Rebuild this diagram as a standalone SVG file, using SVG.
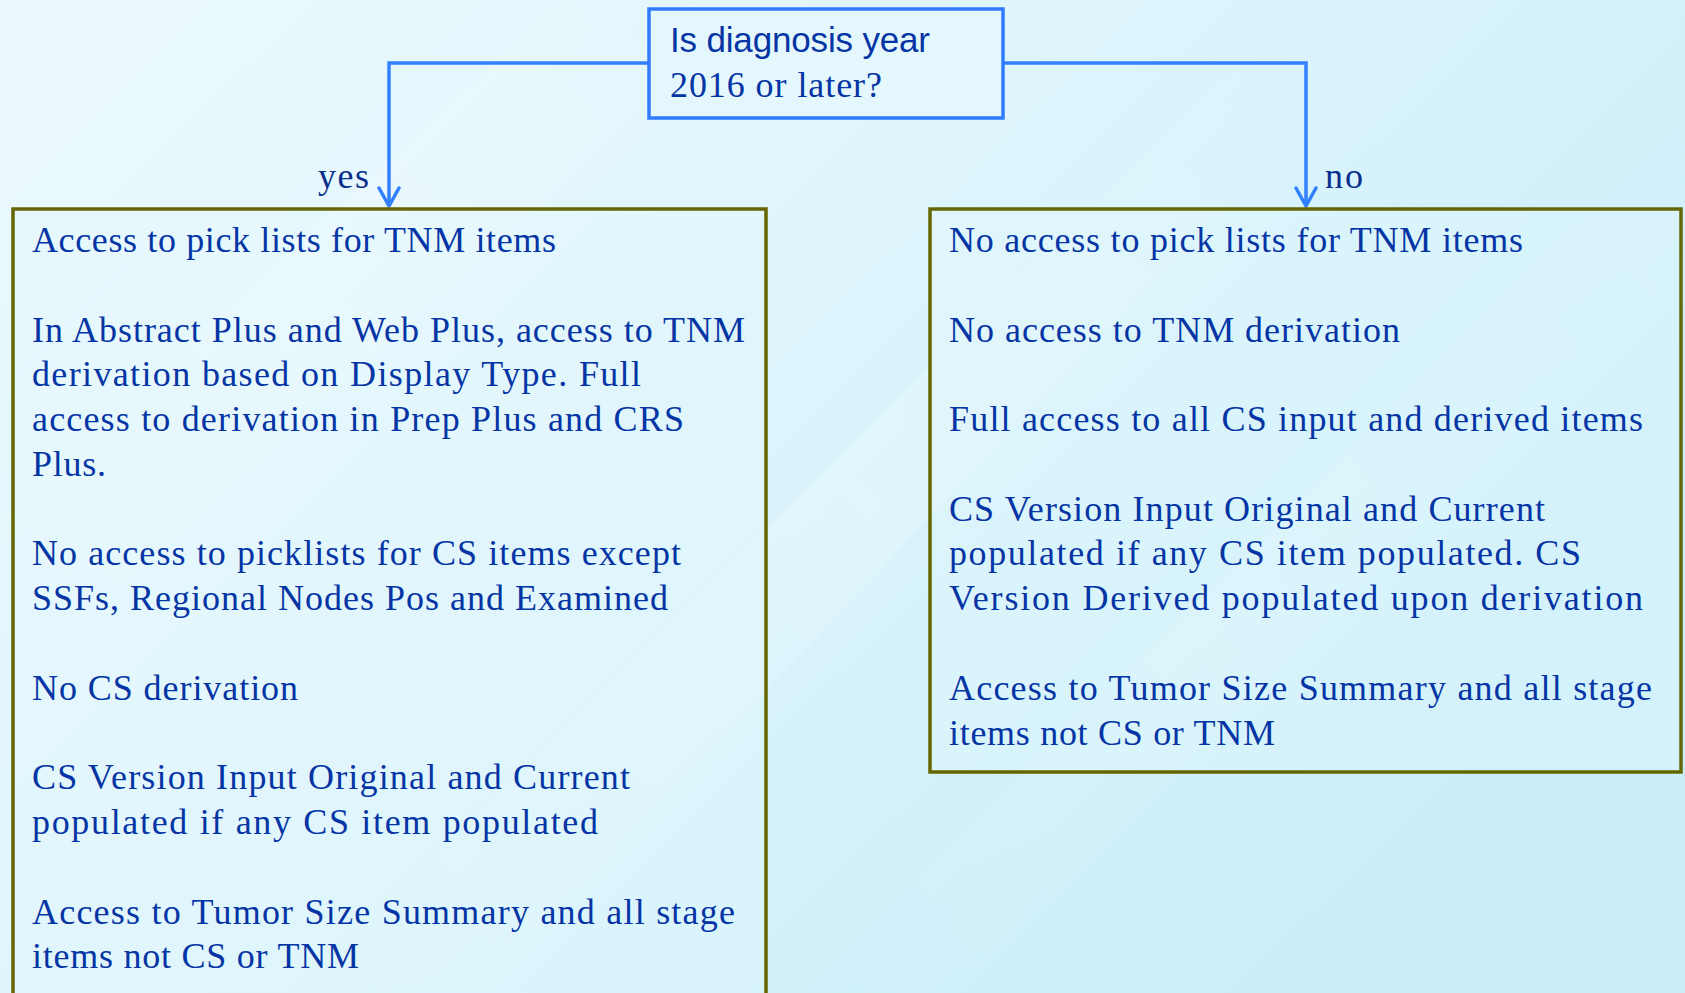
<svg xmlns="http://www.w3.org/2000/svg" width="1685" height="993" viewBox="0 0 1685 993">
<defs>
<linearGradient id="bg" x1="0" y1="0" x2="1" y2="0.6">
<stop offset="0" stop-color="#ecf9fd"/>
<stop offset="0.45" stop-color="#dff5fc"/>
<stop offset="1" stop-color="#c9eefa"/>
</linearGradient>
<linearGradient id="streak" x1="0" y1="1" x2="1" y2="0">
<stop offset="0" stop-color="#ffffff" stop-opacity="0"/>
<stop offset="0.5" stop-color="#ffffff" stop-opacity="0.35"/>
<stop offset="1" stop-color="#ffffff" stop-opacity="0"/>
</linearGradient>
<style>
.bg{fill:url(#bg)}
.conn{fill:none;stroke:#3380ff;stroke-width:3.5;stroke-linejoin:miter}
.head{fill:none;stroke:#3380ff;stroke-width:3.5;stroke-linecap:round;stroke-linejoin:round}
.box{fill:#e6f8fd;fill-opacity:0.35;stroke:#666600;stroke-width:3.5}
.qbox{fill:#e4f7fd;stroke:#2f7bff;stroke-width:3.5}
.t{font-family:"Liberation Serif","Times New Roman",serif;font-size:36px;fill:#0535a5}
.s{font-family:"Liberation Sans",Arial,sans-serif;font-size:35px;fill:#0535a5}
.lbl{font-family:"Liberation Serif","Times New Roman",serif;font-size:36px;fill:#0a2e8c}
</style>
</defs>
<rect class="bg" x="0" y="0" width="1685" height="993"/>
<polygon points="0,520 560,0 760,0 0,700" fill="url(#streak)" opacity="0.7"/>
<polygon points="300,993 1300,0 1420,0 480,993" fill="url(#streak)" opacity="0.5"/>
<polygon points="800,993 1685,120 1685,260 960,993" fill="url(#streak)" opacity="0.4"/>

<g id="connectors">
<path class="conn" d="M649,63 H389 V205"/>
<path class="head" d="M379,188 L389,206 L399,188"/>
<path class="conn" d="M1003,63 H1306 V205"/>
<path class="head" d="M1296,188 L1306,206 L1316,188"/>
<text class="lbl" x="318" y="188" textLength="51" lengthAdjust="spacing">yes</text>
<text class="lbl" x="1325" y="188" textLength="38" lengthAdjust="spacing">no</text>
</g>

<g id="question">
<rect class="qbox" x="649" y="9" width="354" height="109"/>
<text class="s" x="670" y="52" textLength="260" lengthAdjust="spacing">Is diagnosis year</text>
<text class="t" x="670" y="97" textLength="212" lengthAdjust="spacing">2016 or later?</text>
</g>

<g id="yes-box">
<rect class="box" x="13" y="209" width="753" height="800"/>
<text class="t" x="32" y="252" textLength="524" lengthAdjust="spacing">Access to pick lists for TNM items</text>
<text class="t" x="32" y="342" textLength="713" lengthAdjust="spacing">In Abstract Plus and Web Plus, access to TNM</text>
<text class="t" x="32" y="386" textLength="609" lengthAdjust="spacing">derivation based on Display Type. Full</text>
<text class="t" x="32" y="431" textLength="652" lengthAdjust="spacing">access to derivation in Prep Plus and CRS</text>
<text class="t" x="32" y="476" textLength="74" lengthAdjust="spacing">Plus.</text>
<text class="t" x="32" y="565" textLength="649" lengthAdjust="spacing">No access to picklists for CS items except</text>
<text class="t" x="32" y="610" textLength="636" lengthAdjust="spacing">SSFs, Regional Nodes Pos and Examined</text>
<text class="t" x="32" y="700" textLength="266" lengthAdjust="spacing">No CS derivation</text>
<text class="t" x="32" y="789" textLength="598" lengthAdjust="spacing">CS Version Input Original and Current</text>
<text class="t" x="32" y="834" textLength="566" lengthAdjust="spacing">populated if any CS item populated</text>
<text class="t" x="32" y="924" textLength="703" lengthAdjust="spacing">Access to Tumor Size Summary and all stage</text>
<text class="t" x="32" y="968" textLength="327" lengthAdjust="spacing">items not CS or TNM</text>
</g>

<g id="no-box">
<rect class="box" x="930" y="209" width="751" height="563"/>
<text class="t" x="949" y="252" textLength="574" lengthAdjust="spacing">No access to pick lists for TNM items</text>
<text class="t" x="949" y="342" textLength="451" lengthAdjust="spacing">No access to TNM derivation</text>
<text class="t" x="949" y="431" textLength="694" lengthAdjust="spacing">Full access to all CS input and derived items</text>
<text class="t" x="949" y="521" textLength="596" lengthAdjust="spacing">CS Version Input Original and Current</text>
<text class="t" x="949" y="565" textLength="632" lengthAdjust="spacing">populated if any CS item populated. CS</text>
<text class="t" x="949" y="610" textLength="694" lengthAdjust="spacing">Version Derived populated upon derivation</text>
<text class="t" x="949" y="700" textLength="703" lengthAdjust="spacing">Access to Tumor Size Summary and all stage</text>
<text class="t" x="949" y="745" textLength="326" lengthAdjust="spacing">items not CS or TNM</text>
</g>
</svg>
